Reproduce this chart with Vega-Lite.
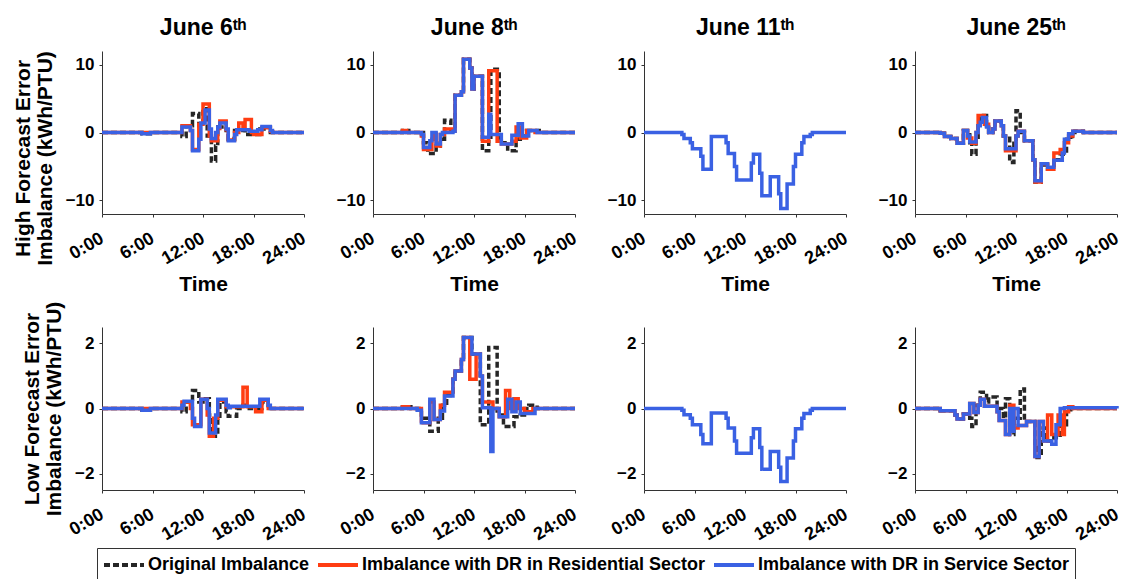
{
"$schema": "https://vega.github.io/schema/vega-lite/v6.json",
"background": "white",
"padding": {"left": 12, "top": 16, "right": 5, "bottom": 5},
"data": {"values": [
{"p":"H6","s":"O","t":0,"v":0},{"p":"H6","s":"O","t":4.75,"v":-0.2},{"p":"H6","s":"O","t":5.75,"v":0},{"p":"H6","s":"O","t":9.5,"v":-0.6},{"p":"H6","s":"O","t":10,"v":1.0},{"p":"H6","s":"O","t":10.75,"v":2.8},{"p":"H6","s":"O","t":11.5,"v":1.0},{"p":"H6","s":"O","t":12,"v":3.5},{"p":"H6","s":"O","t":12.5,"v":-0.5},{"p":"H6","s":"O","t":13,"v":-4.2},{"p":"H6","s":"O","t":13.5,"v":-2.0},{"p":"H6","s":"O","t":13.75,"v":0.8},{"p":"H6","s":"O","t":14.25,"v":1.5},{"p":"H6","s":"O","t":14.75,"v":0.3},{"p":"H6","s":"O","t":15,"v":-1.0},{"p":"H6","s":"O","t":15.75,"v":0.3},{"p":"H6","s":"O","t":17,"v":-0.3},{"p":"H6","s":"O","t":18.75,"v":0.5},{"p":"H6","s":"O","t":19.25,"v":0.8},{"p":"H6","s":"O","t":20,"v":0},{"p":"H6","s":"O","t":24,"v":0},
{"p":"H6","s":"R","t":0,"v":0},{"p":"H6","s":"R","t":9.5,"v":1.0},{"p":"H6","s":"R","t":10.5,"v":0.3},{"p":"H6","s":"R","t":10.75,"v":-2.5},{"p":"H6","s":"R","t":11.5,"v":1.2},{"p":"H6","s":"R","t":12,"v":4.2},{"p":"H6","s":"R","t":12.75,"v":-0.5},{"p":"H6","s":"R","t":13,"v":-1.2},{"p":"H6","s":"R","t":13.75,"v":0.6},{"p":"H6","s":"R","t":14,"v":1.7},{"p":"H6","s":"R","t":14.75,"v":0.4},{"p":"H6","s":"R","t":15,"v":-1.1},{"p":"H6","s":"R","t":15.75,"v":0},{"p":"H6","s":"R","t":16.25,"v":1.4},{"p":"H6","s":"R","t":16.75,"v":0.8},{"p":"H6","s":"R","t":17,"v":1.9},{"p":"H6","s":"R","t":17.75,"v":0},{"p":"H6","s":"R","t":18,"v":-0.3},{"p":"H6","s":"R","t":19,"v":0.7},{"p":"H6","s":"R","t":20,"v":0.2},{"p":"H6","s":"R","t":20.25,"v":0},{"p":"H6","s":"R","t":24,"v":0},
{"p":"H6","s":"S","t":0,"v":0},{"p":"H6","s":"S","t":4.75,"v":-0.2},{"p":"H6","s":"S","t":5.75,"v":0},{"p":"H6","s":"S","t":9.5,"v":0.8},{"p":"H6","s":"S","t":10.5,"v":0.3},{"p":"H6","s":"S","t":10.75,"v":-2.7},{"p":"H6","s":"S","t":11.5,"v":-1},{"p":"H6","s":"S","t":11.75,"v":1.4},{"p":"H6","s":"S","t":12.25,"v":3.3},{"p":"H6","s":"S","t":12.75,"v":0.5},{"p":"H6","s":"S","t":13,"v":-0.9},{"p":"H6","s":"S","t":13.5,"v":0},{"p":"H6","s":"S","t":13.75,"v":0.8},{"p":"H6","s":"S","t":14,"v":1.4},{"p":"H6","s":"S","t":14.75,"v":0.5},{"p":"H6","s":"S","t":15,"v":-1.2},{"p":"H6","s":"S","t":15.75,"v":-0.3},{"p":"H6","s":"S","t":16,"v":0.4},{"p":"H6","s":"S","t":17.5,"v":0.2},{"p":"H6","s":"S","t":18.5,"v":0.4},{"p":"H6","s":"S","t":19,"v":0.9},{"p":"H6","s":"S","t":20,"v":0.3},{"p":"H6","s":"S","t":20.25,"v":0},{"p":"H6","s":"S","t":24,"v":0},

{"p":"H8","s":"O","t":0,"v":0},{"p":"H8","s":"O","t":3.5,"v":0.3},{"p":"H8","s":"O","t":4.25,"v":0},{"p":"H8","s":"O","t":6,"v":-1.5},{"p":"H8","s":"O","t":6.5,"v":-3.1},{"p":"H8","s":"O","t":7.5,"v":-2.0},{"p":"H8","s":"O","t":8,"v":-1.0},{"p":"H8","s":"O","t":8.5,"v":1.8},{"p":"H8","s":"O","t":9.25,"v":0.3},{"p":"H8","s":"O","t":9.75,"v":5.5},{"p":"H8","s":"O","t":10.5,"v":6.0},{"p":"H8","s":"O","t":10.75,"v":10.8},{"p":"H8","s":"O","t":11.5,"v":9.5},{"p":"H8","s":"O","t":11.75,"v":6.4},{"p":"H8","s":"O","t":12,"v":8.3},{"p":"H8","s":"O","t":13,"v":-2.7},{"p":"H8","s":"O","t":13.75,"v":-1.0},{"p":"H8","s":"O","t":14,"v":9.3},{"p":"H8","s":"O","t":15,"v":-1.5},{"p":"H8","s":"O","t":16,"v":-2.7},{"p":"H8","s":"O","t":17,"v":-1.0},{"p":"H8","s":"O","t":17.5,"v":-0.5},{"p":"H8","s":"O","t":18.25,"v":0.3},{"p":"H8","s":"O","t":19.75,"v":0},{"p":"H8","s":"O","t":24,"v":0},
{"p":"H8","s":"R","t":0,"v":0},{"p":"H8","s":"R","t":3.5,"v":0.3},{"p":"H8","s":"R","t":4,"v":0},{"p":"H8","s":"R","t":5.75,"v":-0.5},{"p":"H8","s":"R","t":6,"v":-2.5},{"p":"H8","s":"R","t":7,"v":-1},{"p":"H8","s":"R","t":7.25,"v":-0.2},{"p":"H8","s":"R","t":7.5,"v":-2.0},{"p":"H8","s":"R","t":8,"v":-0.3},{"p":"H8","s":"R","t":8.5,"v":0.5},{"p":"H8","s":"R","t":9.5,"v":0.2},{"p":"H8","s":"R","t":9.75,"v":5.5},{"p":"H8","s":"R","t":10.5,"v":6.0},{"p":"H8","s":"R","t":10.75,"v":10.8},{"p":"H8","s":"R","t":11.5,"v":9.5},{"p":"H8","s":"R","t":11.75,"v":6.4},{"p":"H8","s":"R","t":12,"v":8.3},{"p":"H8","s":"R","t":13,"v":-1.3},{"p":"H8","s":"R","t":13.75,"v":9.1},{"p":"H8","s":"R","t":14.75,"v":-1.3},{"p":"H8","s":"R","t":15.25,"v":-1.7},{"p":"H8","s":"R","t":16.5,"v":-1.3},{"p":"H8","s":"R","t":17,"v":0.8},{"p":"H8","s":"R","t":17.5,"v":-0.8},{"p":"H8","s":"R","t":18.25,"v":0.3},{"p":"H8","s":"R","t":19.25,"v":0},{"p":"H8","s":"R","t":24,"v":0},
{"p":"H8","s":"S","t":0,"v":0},{"p":"H8","s":"S","t":5.75,"v":-0.3},{"p":"H8","s":"S","t":6,"v":-2.2},{"p":"H8","s":"S","t":6.75,"v":-1.2},{"p":"H8","s":"S","t":7,"v":0},{"p":"H8","s":"S","t":7.5,"v":-1.7},{"p":"H8","s":"S","t":8,"v":-0.3},{"p":"H8","s":"S","t":8.25,"v":0},{"p":"H8","s":"S","t":9.5,"v":0.2},{"p":"H8","s":"S","t":9.75,"v":5.5},{"p":"H8","s":"S","t":10.5,"v":6.0},{"p":"H8","s":"S","t":10.75,"v":10.8},{"p":"H8","s":"S","t":11.5,"v":9.5},{"p":"H8","s":"S","t":11.75,"v":6.4},{"p":"H8","s":"S","t":12,"v":8.3},{"p":"H8","s":"S","t":13,"v":-0.7},{"p":"H8","s":"S","t":13.75,"v":2.7},{"p":"H8","s":"S","t":14,"v":-0.3},{"p":"H8","s":"S","t":15.25,"v":-1.7},{"p":"H8","s":"S","t":16.5,"v":-0.4},{"p":"H8","s":"S","t":17.25,"v":1.3},{"p":"H8","s":"S","t":17.75,"v":-0.5},{"p":"H8","s":"S","t":18.5,"v":0.3},{"p":"H8","s":"S","t":19.5,"v":0},{"p":"H8","s":"S","t":24,"v":0},

{"p":"H11","s":"S","t":0,"v":0},{"p":"H11","s":"S","t":4.5,"v":-0.3},{"p":"H11","s":"S","t":4.75,"v":-0.9},{"p":"H11","s":"S","t":5.5,"v":-1.5},{"p":"H11","s":"S","t":5.75,"v":-2.4},{"p":"H11","s":"S","t":6.75,"v":-3.5},{"p":"H11","s":"S","t":7,"v":-5.4},{"p":"H11","s":"S","t":8,"v":-0.6},{"p":"H11","s":"S","t":9.75,"v":-1.5},{"p":"H11","s":"S","t":10,"v":-3.1},{"p":"H11","s":"S","t":10.75,"v":-5},{"p":"H11","s":"S","t":11,"v":-7.0},{"p":"H11","s":"S","t":12.75,"v":-4.5},{"p":"H11","s":"S","t":13,"v":-3.2},{"p":"H11","s":"S","t":13.75,"v":-6},{"p":"H11","s":"S","t":14,"v":-9.3},{"p":"H11","s":"S","t":15,"v":-6.5},{"p":"H11","s":"S","t":16,"v":-9},{"p":"H11","s":"S","t":16.25,"v":-11.2},{"p":"H11","s":"S","t":17,"v":-7.6},{"p":"H11","s":"S","t":17.75,"v":-5},{"p":"H11","s":"S","t":18,"v":-3.2},{"p":"H11","s":"S","t":18.75,"v":-1.5},{"p":"H11","s":"S","t":19,"v":-0.6},{"p":"H11","s":"S","t":19.75,"v":-0.3},{"p":"H11","s":"S","t":20,"v":0},{"p":"H11","s":"S","t":24,"v":0},

{"p":"H25","s":"O","t":0,"v":0},{"p":"H25","s":"O","t":3,"v":-0.1},{"p":"H25","s":"O","t":3.5,"v":-0.6},{"p":"H25","s":"O","t":4.25,"v":-0.9},{"p":"H25","s":"O","t":5,"v":-1.6},{"p":"H25","s":"O","t":5.75,"v":0.3},{"p":"H25","s":"O","t":6.5,"v":-1.5},{"p":"H25","s":"O","t":6.75,"v":-3.2},{"p":"H25","s":"O","t":7.25,"v":-1},{"p":"H25","s":"O","t":7.5,"v":1.5},{"p":"H25","s":"O","t":7.75,"v":2.5},{"p":"H25","s":"O","t":8.5,"v":1.0},{"p":"H25","s":"O","t":8.75,"v":0},{"p":"H25","s":"O","t":9.25,"v":0.5},{"p":"H25","s":"O","t":9.5,"v":1.7},{"p":"H25","s":"O","t":10.25,"v":1.0},{"p":"H25","s":"O","t":10.5,"v":-0.5},{"p":"H25","s":"O","t":11.25,"v":-4.4},{"p":"H25","s":"O","t":11.75,"v":-1},{"p":"H25","s":"O","t":12,"v":3.2},{"p":"H25","s":"O","t":12.5,"v":0},{"p":"H25","s":"O","t":13,"v":-1.2},{"p":"H25","s":"O","t":14,"v":-4},{"p":"H25","s":"O","t":14.25,"v":-7.3},{"p":"H25","s":"O","t":15,"v":-4.8},{"p":"H25","s":"O","t":15.75,"v":-5.4},{"p":"H25","s":"O","t":16.5,"v":-4.0},{"p":"H25","s":"O","t":17.25,"v":-3.2},{"p":"H25","s":"O","t":18,"v":-1.0},{"p":"H25","s":"O","t":18.5,"v":-0.6},{"p":"H25","s":"O","t":19,"v":0.2},{"p":"H25","s":"O","t":20,"v":0},{"p":"H25","s":"O","t":24,"v":0},
{"p":"H25","s":"R","t":0,"v":0},{"p":"H25","s":"R","t":3,"v":-0.1},{"p":"H25","s":"R","t":3.5,"v":-0.6},{"p":"H25","s":"R","t":4.25,"v":-0.9},{"p":"H25","s":"R","t":5,"v":-1.6},{"p":"H25","s":"R","t":5.75,"v":0.3},{"p":"H25","s":"R","t":6.25,"v":-0.8},{"p":"H25","s":"R","t":6.75,"v":-1.6},{"p":"H25","s":"R","t":7.25,"v":0},{"p":"H25","s":"R","t":7.5,"v":2.5},{"p":"H25","s":"R","t":8.25,"v":1.2},{"p":"H25","s":"R","t":8.75,"v":0},{"p":"H25","s":"R","t":9.25,"v":0.5},{"p":"H25","s":"R","t":9.5,"v":1.7},{"p":"H25","s":"R","t":10.25,"v":1.0},{"p":"H25","s":"R","t":10.5,"v":-0.5},{"p":"H25","s":"R","t":10.75,"v":-2.7},{"p":"H25","s":"R","t":12,"v":-0.5},{"p":"H25","s":"R","t":12.25,"v":0.2},{"p":"H25","s":"R","t":13,"v":-1.2},{"p":"H25","s":"R","t":14,"v":-4},{"p":"H25","s":"R","t":14.25,"v":-7.3},{"p":"H25","s":"R","t":15,"v":-4.6},{"p":"H25","s":"R","t":15.75,"v":-5.4},{"p":"H25","s":"R","t":16.5,"v":-3.0},{"p":"H25","s":"R","t":17.25,"v":-2.5},{"p":"H25","s":"R","t":17.75,"v":-1.5},{"p":"H25","s":"R","t":18.25,"v":-0.5},{"p":"H25","s":"R","t":18.75,"v":0.2},{"p":"H25","s":"R","t":20,"v":0},{"p":"H25","s":"R","t":24,"v":0},
{"p":"H25","s":"S","t":0,"v":0},{"p":"H25","s":"S","t":3,"v":-0.1},{"p":"H25","s":"S","t":3.5,"v":-0.6},{"p":"H25","s":"S","t":4.25,"v":-0.9},{"p":"H25","s":"S","t":5,"v":-1.6},{"p":"H25","s":"S","t":5.75,"v":0.3},{"p":"H25","s":"S","t":6.25,"v":-0.5},{"p":"H25","s":"S","t":6.5,"v":-1.4},{"p":"H25","s":"S","t":7.25,"v":0},{"p":"H25","s":"S","t":7.5,"v":1.0},{"p":"H25","s":"S","t":7.75,"v":1.5},{"p":"H25","s":"S","t":8,"v":2.2},{"p":"H25","s":"S","t":8.5,"v":0.8},{"p":"H25","s":"S","t":8.75,"v":0},{"p":"H25","s":"S","t":9.25,"v":0.5},{"p":"H25","s":"S","t":9.5,"v":1.7},{"p":"H25","s":"S","t":10.25,"v":1.0},{"p":"H25","s":"S","t":10.5,"v":-0.5},{"p":"H25","s":"S","t":10.75,"v":-2.4},{"p":"H25","s":"S","t":12,"v":-0.5},{"p":"H25","s":"S","t":12.25,"v":0.2},{"p":"H25","s":"S","t":13,"v":-1.2},{"p":"H25","s":"S","t":14,"v":-4},{"p":"H25","s":"S","t":14.25,"v":-7.1},{"p":"H25","s":"S","t":15,"v":-4.6},{"p":"H25","s":"S","t":15.75,"v":-5.1},{"p":"H25","s":"S","t":16.5,"v":-4.1},{"p":"H25","s":"S","t":17.5,"v":-3.0},{"p":"H25","s":"S","t":17.75,"v":-1.0},{"p":"H25","s":"S","t":18.25,"v":-0.2},{"p":"H25","s":"S","t":18.75,"v":0.2},{"p":"H25","s":"S","t":20,"v":0},{"p":"H25","s":"S","t":24,"v":0},

{"p":"L6","s":"O","t":0,"v":0},{"p":"L6","s":"O","t":4.75,"v":-0.05},{"p":"L6","s":"O","t":5.75,"v":0},{"p":"L6","s":"O","t":9.5,"v":-0.1},{"p":"L6","s":"O","t":10,"v":0.2},{"p":"L6","s":"O","t":10.75,"v":0.55},{"p":"L6","s":"O","t":11.5,"v":0.2},{"p":"L6","s":"O","t":12,"v":0.3},{"p":"L6","s":"O","t":12.75,"v":-0.2},{"p":"L6","s":"O","t":13,"v":-0.85},{"p":"L6","s":"O","t":13.75,"v":-0.3},{"p":"L6","s":"O","t":14,"v":0.2},{"p":"L6","s":"O","t":14.75,"v":-0.1},{"p":"L6","s":"O","t":15,"v":-0.24},{"p":"L6","s":"O","t":16,"v":0},{"p":"L6","s":"O","t":16.75,"v":0.1},{"p":"L6","s":"O","t":17.5,"v":0},{"p":"L6","s":"O","t":19,"v":0.2},{"p":"L6","s":"O","t":19.75,"v":0},{"p":"L6","s":"O","t":24,"v":0},
{"p":"L6","s":"R","t":0,"v":0},{"p":"L6","s":"R","t":9.5,"v":0.2},{"p":"L6","s":"R","t":10.5,"v":0},{"p":"L6","s":"R","t":10.75,"v":-0.5},{"p":"L6","s":"R","t":11.75,"v":0.28},{"p":"L6","s":"R","t":12.5,"v":-0.2},{"p":"L6","s":"R","t":12.75,"v":-0.85},{"p":"L6","s":"R","t":13.25,"v":-0.3},{"p":"L6","s":"R","t":13.75,"v":0.25},{"p":"L6","s":"R","t":14.75,"v":0.05},{"p":"L6","s":"R","t":16.75,"v":0.65},{"p":"L6","s":"R","t":17.25,"v":0.05},{"p":"L6","s":"R","t":18.25,"v":-0.1},{"p":"L6","s":"R","t":19,"v":0.25},{"p":"L6","s":"R","t":19.75,"v":0},{"p":"L6","s":"R","t":24,"v":0},
{"p":"L6","s":"S","t":0,"v":0},{"p":"L6","s":"S","t":4.75,"v":-0.05},{"p":"L6","s":"S","t":5.75,"v":0},{"p":"L6","s":"S","t":9.5,"v":0.1},{"p":"L6","s":"S","t":9.75,"v":0.22},{"p":"L6","s":"S","t":10.75,"v":-0.3},{"p":"L6","s":"S","t":11,"v":-0.55},{"p":"L6","s":"S","t":11.75,"v":0.28},{"p":"L6","s":"S","t":12.5,"v":0},{"p":"L6","s":"S","t":12.75,"v":-0.75},{"p":"L6","s":"S","t":13.5,"v":-0.2},{"p":"L6","s":"S","t":13.75,"v":0.28},{"p":"L6","s":"S","t":14.75,"v":0.1},{"p":"L6","s":"S","t":15,"v":0.02},{"p":"L6","s":"S","t":15.25,"v":0.07},{"p":"L6","s":"S","t":18.75,"v":0.28},{"p":"L6","s":"S","t":19.75,"v":0.1},{"p":"L6","s":"S","t":20,"v":0},{"p":"L6","s":"S","t":24,"v":0},

{"p":"L8","s":"O","t":0,"v":0},{"p":"L8","s":"O","t":3.5,"v":0.05},{"p":"L8","s":"O","t":4.5,"v":0},{"p":"L8","s":"O","t":5.75,"v":-0.3},{"p":"L8","s":"O","t":6.75,"v":-0.7},{"p":"L8","s":"O","t":7.75,"v":-0.3},{"p":"L8","s":"O","t":8.25,"v":0.1},{"p":"L8","s":"O","t":8.75,"v":0.4},{"p":"L8","s":"O","t":9.5,"v":0.9},{"p":"L8","s":"O","t":9.75,"v":1.15},{"p":"L8","s":"O","t":10.5,"v":1.5},{"p":"L8","s":"O","t":10.75,"v":2.18},{"p":"L8","s":"O","t":11.75,"v":1.67},{"p":"L8","s":"O","t":12.75,"v":-0.5},{"p":"L8","s":"O","t":13.75,"v":1.87},{"p":"L8","s":"O","t":14.75,"v":-0.2},{"p":"L8","s":"O","t":15.5,"v":-0.55},{"p":"L8","s":"O","t":16.75,"v":-0.25},{"p":"L8","s":"O","t":17.5,"v":-0.2},{"p":"L8","s":"O","t":18,"v":0},{"p":"L8","s":"O","t":18.5,"v":0.1},{"p":"L8","s":"O","t":19.5,"v":0},{"p":"L8","s":"O","t":24,"v":0},
{"p":"L8","s":"R","t":0,"v":0},{"p":"L8","s":"R","t":3.5,"v":0.05},{"p":"L8","s":"R","t":4.25,"v":0},{"p":"L8","s":"R","t":5.75,"v":-0.44},{"p":"L8","s":"R","t":6.75,"v":0.2},{"p":"L8","s":"R","t":7.25,"v":-0.34},{"p":"L8","s":"R","t":8,"v":0.1},{"p":"L8","s":"R","t":8.5,"v":0.5},{"p":"L8","s":"R","t":9.5,"v":0.9},{"p":"L8","s":"R","t":9.75,"v":1.15},{"p":"L8","s":"R","t":10.5,"v":1.5},{"p":"L8","s":"R","t":10.75,"v":2.18},{"p":"L8","s":"R","t":11.5,"v":0.9},{"p":"L8","s":"R","t":12.25,"v":1.67},{"p":"L8","s":"R","t":12.75,"v":1.0},{"p":"L8","s":"R","t":13,"v":0.2},{"p":"L8","s":"R","t":14.25,"v":0},{"p":"L8","s":"R","t":15,"v":-0.25},{"p":"L8","s":"R","t":15.75,"v":0.55},{"p":"L8","s":"R","t":16.25,"v":0},{"p":"L8","s":"R","t":16.75,"v":0.3},{"p":"L8","s":"R","t":17.25,"v":0},{"p":"L8","s":"R","t":18,"v":-0.1},{"p":"L8","s":"R","t":19,"v":0},{"p":"L8","s":"R","t":24,"v":0},
{"p":"L8","s":"S","t":0,"v":0},{"p":"L8","s":"S","t":5.25,"v":-0.05},{"p":"L8","s":"S","t":5.75,"v":-0.44},{"p":"L8","s":"S","t":6.75,"v":0.28},{"p":"L8","s":"S","t":7.25,"v":-0.34},{"p":"L8","s":"S","t":8,"v":-0.08},{"p":"L8","s":"S","t":8.5,"v":0.38},{"p":"L8","s":"S","t":9.5,"v":0.9},{"p":"L8","s":"S","t":9.75,"v":1.15},{"p":"L8","s":"S","t":10.5,"v":1.5},{"p":"L8","s":"S","t":10.75,"v":2.18},{"p":"L8","s":"S","t":11.75,"v":1.67},{"p":"L8","s":"S","t":12.75,"v":1.0},{"p":"L8","s":"S","t":13,"v":0.02},{"p":"L8","s":"S","t":14,"v":-1.32},{"p":"L8","s":"S","t":14.25,"v":0},{"p":"L8","s":"S","t":15,"v":-0.25},{"p":"L8","s":"S","t":16,"v":0.28},{"p":"L8","s":"S","t":16.5,"v":-0.1},{"p":"L8","s":"S","t":17,"v":0.2},{"p":"L8","s":"S","t":17.5,"v":-0.15},{"p":"L8","s":"S","t":19.25,"v":0},{"p":"L8","s":"S","t":24,"v":0},

{"p":"L11","s":"S","t":0,"v":0},{"p":"L11","s":"S","t":4.5,"v":-0.05},{"p":"L11","s":"S","t":4.75,"v":-0.19},{"p":"L11","s":"S","t":5.5,"v":-0.3},{"p":"L11","s":"S","t":5.75,"v":-0.5},{"p":"L11","s":"S","t":6.75,"v":-0.8},{"p":"L11","s":"S","t":7,"v":-1.08},{"p":"L11","s":"S","t":8,"v":-0.14},{"p":"L11","s":"S","t":9.75,"v":-0.3},{"p":"L11","s":"S","t":10,"v":-0.6},{"p":"L11","s":"S","t":10.75,"v":-1.0},{"p":"L11","s":"S","t":11,"v":-1.37},{"p":"L11","s":"S","t":12.75,"v":-0.9},{"p":"L11","s":"S","t":13,"v":-0.62},{"p":"L11","s":"S","t":13.75,"v":-1.2},{"p":"L11","s":"S","t":14,"v":-1.86},{"p":"L11","s":"S","t":15,"v":-1.32},{"p":"L11","s":"S","t":16,"v":-1.8},{"p":"L11","s":"S","t":16.25,"v":-2.24},{"p":"L11","s":"S","t":17,"v":-1.52},{"p":"L11","s":"S","t":17.75,"v":-1.0},{"p":"L11","s":"S","t":18,"v":-0.62},{"p":"L11","s":"S","t":18.75,"v":-0.3},{"p":"L11","s":"S","t":19,"v":-0.15},{"p":"L11","s":"S","t":19.75,"v":-0.05},{"p":"L11","s":"S","t":20,"v":0},{"p":"L11","s":"S","t":24,"v":0},

{"p":"L25","s":"O","t":0,"v":0},{"p":"L25","s":"O","t":3,"v":-0.07},{"p":"L25","s":"O","t":4.75,"v":-0.2},{"p":"L25","s":"O","t":5,"v":-0.32},{"p":"L25","s":"O","t":5.75,"v":-0.17},{"p":"L25","s":"O","t":6.5,"v":-0.3},{"p":"L25","s":"O","t":6.75,"v":-0.55},{"p":"L25","s":"O","t":7.25,"v":0.1},{"p":"L25","s":"O","t":7.75,"v":0.5},{"p":"L25","s":"O","t":8.5,"v":0.2},{"p":"L25","s":"O","t":8.75,"v":0.35},{"p":"L25","s":"O","t":9.75,"v":0.0},{"p":"L25","s":"O","t":10.5,"v":-0.3},{"p":"L25","s":"O","t":10.75,"v":0.3},{"p":"L25","s":"O","t":11.25,"v":-0.8},{"p":"L25","s":"O","t":11.75,"v":-0.3},{"p":"L25","s":"O","t":12.5,"v":0.6},{"p":"L25","s":"O","t":13,"v":-0.4},{"p":"L25","s":"O","t":14.25,"v":-1.2},{"p":"L25","s":"O","t":14.5,"v":-1.5},{"p":"L25","s":"O","t":15,"v":-0.6},{"p":"L25","s":"O","t":15.5,"v":-1.0},{"p":"L25","s":"O","t":16.5,"v":-0.9},{"p":"L25","s":"O","t":17.25,"v":-0.5},{"p":"L25","s":"O","t":18,"v":-0.1},{"p":"L25","s":"O","t":18.5,"v":0},{"p":"L25","s":"O","t":24,"v":0},
{"p":"L25","s":"R","t":0,"v":0},{"p":"L25","s":"R","t":3,"v":-0.07},{"p":"L25","s":"R","t":4.75,"v":-0.2},{"p":"L25","s":"R","t":5,"v":-0.32},{"p":"L25","s":"R","t":5.75,"v":-0.17},{"p":"L25","s":"R","t":6.5,"v":0.15},{"p":"L25","s":"R","t":7,"v":-0.12},{"p":"L25","s":"R","t":7.5,"v":0.1},{"p":"L25","s":"R","t":7.75,"v":0.28},{"p":"L25","s":"R","t":8.25,"v":0.07},{"p":"L25","s":"R","t":9.75,"v":-0.1},{"p":"L25","s":"R","t":10,"v":-0.37},{"p":"L25","s":"R","t":10.75,"v":-0.8},{"p":"L25","s":"R","t":11.25,"v":0.1},{"p":"L25","s":"R","t":11.75,"v":-0.6},{"p":"L25","s":"R","t":12.25,"v":-0.52},{"p":"L25","s":"R","t":13.25,"v":-0.4},{"p":"L25","s":"R","t":14.25,"v":-1.47},{"p":"L25","s":"R","t":14.75,"v":-0.4},{"p":"L25","s":"R","t":15.25,"v":-1.0},{"p":"L25","s":"R","t":15.75,"v":-0.2},{"p":"L25","s":"R","t":16.25,"v":-0.8},{"p":"L25","s":"R","t":17,"v":-0.2},{"p":"L25","s":"R","t":17.5,"v":-0.8},{"p":"L25","s":"R","t":17.75,"v":-0.1},{"p":"L25","s":"R","t":18.25,"v":0.05},{"p":"L25","s":"R","t":18.75,"v":0},{"p":"L25","s":"R","t":24,"v":0},
{"p":"L25","s":"S","t":0,"v":0},{"p":"L25","s":"S","t":3,"v":-0.07},{"p":"L25","s":"S","t":4.75,"v":-0.2},{"p":"L25","s":"S","t":5,"v":-0.32},{"p":"L25","s":"S","t":5.75,"v":-0.17},{"p":"L25","s":"S","t":6.5,"v":0.15},{"p":"L25","s":"S","t":7,"v":-0.12},{"p":"L25","s":"S","t":7.5,"v":0.1},{"p":"L25","s":"S","t":7.75,"v":0.28},{"p":"L25","s":"S","t":8.25,"v":0.07},{"p":"L25","s":"S","t":9.75,"v":-0.1},{"p":"L25","s":"S","t":10,"v":-0.37},{"p":"L25","s":"S","t":10.75,"v":-0.8},{"p":"L25","s":"S","t":11.25,"v":0.0},{"p":"L25","s":"S","t":11.5,"v":-0.7},{"p":"L25","s":"S","t":11.75,"v":0.0},{"p":"L25","s":"S","t":12.25,"v":-0.52},{"p":"L25","s":"S","t":13.25,"v":-0.4},{"p":"L25","s":"S","t":14.25,"v":-1.47},{"p":"L25","s":"S","t":14.75,"v":-0.4},{"p":"L25","s":"S","t":15.25,"v":-1.0},{"p":"L25","s":"S","t":16.25,"v":-1.1},{"p":"L25","s":"S","t":16.75,"v":-0.5},{"p":"L25","s":"S","t":17.25,"v":0.0},{"p":"L25","s":"S","t":17.75,"v":0.02},{"p":"L25","s":"S","t":24,"v":0}
]},
"columns": 4,
"bounds": "flush",
"spacing": {"row": 113, "column": 69},
"resolve": {"scale": {"x": "independent", "y": "independent", "color": "shared", "strokeDash": "shared"}, "legend": {"color": "shared", "strokeDash": "shared"}},
"concat": [
{"title": "June 6ᵗʰ", "width": 202, "height": 163, "transform": [{"filter": "datum.p == 'H6'"}],
 "encoding": {
  "x": {"field": "t", "type": "quantitative", "scale": {"domain": [0, 24], "nice": false}, "axis": {"values": [0, 6, 12, 18, 24], "labelExpr": "datum.value + ':00'", "title": "Time"}},
  "y": {"field": "v", "type": "quantitative", "scale": {"domain": [-12, 12], "nice": false, "zero": false}, "axis": {"values": [-10, 0, 10], "title": ["High Forecast Error", "Imbalance (kWh/PTU)"], "titleY": 107}},
  "color": {"field": "s", "type": "nominal", "title": null, "scale": {"domain": ["O", "R", "S"], "range": ["#262626", "#FF3D12", "#3A61E3"]}, "legend": {"title": null, "labelExpr": "datum.label == 'O' ? 'Original Imbalance' : datum.label == 'R' ? 'Imbalance with DR in Residential Sector' : 'Imbalance with DR in Service Sector'"}},
  "strokeDash": {"field": "s", "type": "nominal", "title": null, "scale": {"domain": ["O", "R", "S"], "range": [[6, 3], [1, 0], [1, 0]]}, "legend": {"title": null, "labelExpr": "datum.label == 'O' ? 'Original Imbalance' : datum.label == 'R' ? 'Imbalance with DR in Residential Sector' : 'Imbalance with DR in Service Sector'"}}
 },
 "layer": [
  {"transform": [{"filter": "datum.s == 'O'"}], "mark": {"type": "line", "interpolate": "step-after", "strokeWidth": 3.5}},
  {"transform": [{"filter": "datum.s == 'R'"}], "mark": {"type": "line", "interpolate": "step-after", "strokeWidth": 3.5}},
  {"transform": [{"filter": "datum.s == 'S'"}], "mark": {"type": "line", "interpolate": "step-after", "strokeWidth": 3.5}}
 ]},
{"title": "June 8ᵗʰ", "width": 202, "height": 163, "transform": [{"filter": "datum.p == 'H8'"}],
 "encoding": {
  "x": {"field": "t", "type": "quantitative", "scale": {"domain": [0, 24], "nice": false}, "axis": {"values": [0, 6, 12, 18, 24], "labelExpr": "datum.value + ':00'", "title": "Time"}},
  "y": {"field": "v", "type": "quantitative", "scale": {"domain": [-12, 12], "nice": false, "zero": false}, "axis": {"values": [-10, 0, 10], "title": null}},
  "color": {"field": "s", "type": "nominal", "title": null, "scale": {"domain": ["O", "R", "S"], "range": ["#262626", "#FF3D12", "#3A61E3"]}, "legend": {"title": null, "labelExpr": "datum.label == 'O' ? 'Original Imbalance' : datum.label == 'R' ? 'Imbalance with DR in Residential Sector' : 'Imbalance with DR in Service Sector'"}},
  "strokeDash": {"field": "s", "type": "nominal", "title": null, "scale": {"domain": ["O", "R", "S"], "range": [[6, 3], [1, 0], [1, 0]]}, "legend": {"title": null, "labelExpr": "datum.label == 'O' ? 'Original Imbalance' : datum.label == 'R' ? 'Imbalance with DR in Residential Sector' : 'Imbalance with DR in Service Sector'"}}
 },
 "layer": [
  {"transform": [{"filter": "datum.s == 'O'"}], "mark": {"type": "line", "interpolate": "step-after", "strokeWidth": 3.5}},
  {"transform": [{"filter": "datum.s == 'R'"}], "mark": {"type": "line", "interpolate": "step-after", "strokeWidth": 3.5}},
  {"transform": [{"filter": "datum.s == 'S'"}], "mark": {"type": "line", "interpolate": "step-after", "strokeWidth": 3.5}}
 ]},
{"title": "June 11ᵗʰ", "width": 202, "height": 163, "transform": [{"filter": "datum.p == 'H11'"}],
 "encoding": {
  "x": {"field": "t", "type": "quantitative", "scale": {"domain": [0, 24], "nice": false}, "axis": {"values": [0, 6, 12, 18, 24], "labelExpr": "datum.value + ':00'", "title": "Time"}},
  "y": {"field": "v", "type": "quantitative", "scale": {"domain": [-12, 12], "nice": false, "zero": false}, "axis": {"values": [-10, 0, 10], "title": null}},
  "color": {"field": "s", "type": "nominal", "title": null, "scale": {"domain": ["O", "R", "S"], "range": ["#262626", "#FF3D12", "#3A61E3"]}, "legend": {"title": null, "labelExpr": "datum.label == 'O' ? 'Original Imbalance' : datum.label == 'R' ? 'Imbalance with DR in Residential Sector' : 'Imbalance with DR in Service Sector'"}},
  "strokeDash": {"field": "s", "type": "nominal", "title": null, "scale": {"domain": ["O", "R", "S"], "range": [[6, 3], [1, 0], [1, 0]]}, "legend": {"title": null, "labelExpr": "datum.label == 'O' ? 'Original Imbalance' : datum.label == 'R' ? 'Imbalance with DR in Residential Sector' : 'Imbalance with DR in Service Sector'"}}
 },
 "layer": [
  {"transform": [{"filter": "datum.s == 'S'"}], "mark": {"type": "line", "interpolate": "step-after", "strokeWidth": 3.5}}
 ]},
{"title": "June 25ᵗʰ", "width": 202, "height": 163, "transform": [{"filter": "datum.p == 'H25'"}],
 "encoding": {
  "x": {"field": "t", "type": "quantitative", "scale": {"domain": [0, 24], "nice": false}, "axis": {"values": [0, 6, 12, 18, 24], "labelExpr": "datum.value + ':00'", "title": "Time"}},
  "y": {"field": "v", "type": "quantitative", "scale": {"domain": [-12, 12], "nice": false, "zero": false}, "axis": {"values": [-10, 0, 10], "title": null}},
  "color": {"field": "s", "type": "nominal", "title": null, "scale": {"domain": ["O", "R", "S"], "range": ["#262626", "#FF3D12", "#3A61E3"]}, "legend": {"title": null, "labelExpr": "datum.label == 'O' ? 'Original Imbalance' : datum.label == 'R' ? 'Imbalance with DR in Residential Sector' : 'Imbalance with DR in Service Sector'"}},
  "strokeDash": {"field": "s", "type": "nominal", "title": null, "scale": {"domain": ["O", "R", "S"], "range": [[6, 3], [1, 0], [1, 0]]}, "legend": {"title": null, "labelExpr": "datum.label == 'O' ? 'Original Imbalance' : datum.label == 'R' ? 'Imbalance with DR in Residential Sector' : 'Imbalance with DR in Service Sector'"}}
 },
 "layer": [
  {"transform": [{"filter": "datum.s == 'O'"}], "mark": {"type": "line", "interpolate": "step-after", "strokeWidth": 3.5}},
  {"transform": [{"filter": "datum.s == 'R'"}], "mark": {"type": "line", "interpolate": "step-after", "strokeWidth": 3.5}},
  {"transform": [{"filter": "datum.s == 'S'"}], "mark": {"type": "line", "interpolate": "step-after", "strokeWidth": 3.5}}
 ]},
{"width": 202, "height": 163, "transform": [{"filter": "datum.p == 'L6'"}],
 "encoding": {
  "x": {"field": "t", "type": "quantitative", "scale": {"domain": [0, 24], "nice": false}, "axis": {"values": [0, 6, 12, 18, 24], "labelExpr": "datum.value + ':00'", "title": null}},
  "y": {"field": "v", "type": "quantitative", "scale": {"domain": [-2.5, 2.5], "nice": false, "zero": false}, "axis": {"values": [-2, 0, 2], "title": ["Low Forecast Error", "Imbalance (kWh/PTU)"]}},
  "color": {"field": "s", "type": "nominal", "title": null, "scale": {"domain": ["O", "R", "S"], "range": ["#262626", "#FF3D12", "#3A61E3"]}, "legend": {"title": null, "labelExpr": "datum.label == 'O' ? 'Original Imbalance' : datum.label == 'R' ? 'Imbalance with DR in Residential Sector' : 'Imbalance with DR in Service Sector'"}},
  "strokeDash": {"field": "s", "type": "nominal", "title": null, "scale": {"domain": ["O", "R", "S"], "range": [[6, 3], [1, 0], [1, 0]]}, "legend": {"title": null, "labelExpr": "datum.label == 'O' ? 'Original Imbalance' : datum.label == 'R' ? 'Imbalance with DR in Residential Sector' : 'Imbalance with DR in Service Sector'"}}
 },
 "layer": [
  {"transform": [{"filter": "datum.s == 'O'"}], "mark": {"type": "line", "interpolate": "step-after", "strokeWidth": 3.5}},
  {"transform": [{"filter": "datum.s == 'R'"}], "mark": {"type": "line", "interpolate": "step-after", "strokeWidth": 3.5}},
  {"transform": [{"filter": "datum.s == 'S'"}], "mark": {"type": "line", "interpolate": "step-after", "strokeWidth": 3.5}}
 ]},
{"width": 202, "height": 163, "transform": [{"filter": "datum.p == 'L8'"}],
 "encoding": {
  "x": {"field": "t", "type": "quantitative", "scale": {"domain": [0, 24], "nice": false}, "axis": {"values": [0, 6, 12, 18, 24], "labelExpr": "datum.value + ':00'", "title": null}},
  "y": {"field": "v", "type": "quantitative", "scale": {"domain": [-2.5, 2.5], "nice": false, "zero": false}, "axis": {"values": [-2, 0, 2], "title": null}},
  "color": {"field": "s", "type": "nominal", "title": null, "scale": {"domain": ["O", "R", "S"], "range": ["#262626", "#FF3D12", "#3A61E3"]}, "legend": {"title": null, "labelExpr": "datum.label == 'O' ? 'Original Imbalance' : datum.label == 'R' ? 'Imbalance with DR in Residential Sector' : 'Imbalance with DR in Service Sector'"}},
  "strokeDash": {"field": "s", "type": "nominal", "title": null, "scale": {"domain": ["O", "R", "S"], "range": [[6, 3], [1, 0], [1, 0]]}, "legend": {"title": null, "labelExpr": "datum.label == 'O' ? 'Original Imbalance' : datum.label == 'R' ? 'Imbalance with DR in Residential Sector' : 'Imbalance with DR in Service Sector'"}}
 },
 "layer": [
  {"transform": [{"filter": "datum.s == 'O'"}], "mark": {"type": "line", "interpolate": "step-after", "strokeWidth": 3.5}},
  {"transform": [{"filter": "datum.s == 'R'"}], "mark": {"type": "line", "interpolate": "step-after", "strokeWidth": 3.5}},
  {"transform": [{"filter": "datum.s == 'S'"}], "mark": {"type": "line", "interpolate": "step-after", "strokeWidth": 3.5}}
 ]},
{"width": 202, "height": 163, "transform": [{"filter": "datum.p == 'L11'"}],
 "encoding": {
  "x": {"field": "t", "type": "quantitative", "scale": {"domain": [0, 24], "nice": false}, "axis": {"values": [0, 6, 12, 18, 24], "labelExpr": "datum.value + ':00'", "title": null}},
  "y": {"field": "v", "type": "quantitative", "scale": {"domain": [-2.5, 2.5], "nice": false, "zero": false}, "axis": {"values": [-2, 0, 2], "title": null}},
  "color": {"field": "s", "type": "nominal", "title": null, "scale": {"domain": ["O", "R", "S"], "range": ["#262626", "#FF3D12", "#3A61E3"]}, "legend": {"title": null, "labelExpr": "datum.label == 'O' ? 'Original Imbalance' : datum.label == 'R' ? 'Imbalance with DR in Residential Sector' : 'Imbalance with DR in Service Sector'"}},
  "strokeDash": {"field": "s", "type": "nominal", "title": null, "scale": {"domain": ["O", "R", "S"], "range": [[6, 3], [1, 0], [1, 0]]}, "legend": {"title": null, "labelExpr": "datum.label == 'O' ? 'Original Imbalance' : datum.label == 'R' ? 'Imbalance with DR in Residential Sector' : 'Imbalance with DR in Service Sector'"}}
 },
 "layer": [
  {"transform": [{"filter": "datum.s == 'S'"}], "mark": {"type": "line", "interpolate": "step-after", "strokeWidth": 3.5}}
 ]},
{"width": 202, "height": 163, "transform": [{"filter": "datum.p == 'L25'"}],
 "encoding": {
  "x": {"field": "t", "type": "quantitative", "scale": {"domain": [0, 24], "nice": false}, "axis": {"values": [0, 6, 12, 18, 24], "labelExpr": "datum.value + ':00'", "title": null}},
  "y": {"field": "v", "type": "quantitative", "scale": {"domain": [-2.5, 2.5], "nice": false, "zero": false}, "axis": {"values": [-2, 0, 2], "title": null}},
  "color": {"field": "s", "type": "nominal", "title": null, "scale": {"domain": ["O", "R", "S"], "range": ["#262626", "#FF3D12", "#3A61E3"]}, "legend": {"title": null, "labelExpr": "datum.label == 'O' ? 'Original Imbalance' : datum.label == 'R' ? 'Imbalance with DR in Residential Sector' : 'Imbalance with DR in Service Sector'"}},
  "strokeDash": {"field": "s", "type": "nominal", "title": null, "scale": {"domain": ["O", "R", "S"], "range": [[6, 3], [1, 0], [1, 0]]}, "legend": {"title": null, "labelExpr": "datum.label == 'O' ? 'Original Imbalance' : datum.label == 'R' ? 'Imbalance with DR in Residential Sector' : 'Imbalance with DR in Service Sector'"}}
 },
 "layer": [
  {"transform": [{"filter": "datum.s == 'O'"}], "mark": {"type": "line", "interpolate": "step-after", "strokeWidth": 3.5}},
  {"transform": [{"filter": "datum.s == 'R'"}], "mark": {"type": "line", "interpolate": "step-after", "strokeWidth": 3.5}},
  {"transform": [{"filter": "datum.s == 'S'"}], "mark": {"type": "line", "interpolate": "step-after", "strokeWidth": 3.5}}
 ]}
],
"config": {
  "view": {"stroke": null},
  "font": "Liberation Sans",
  "title": {"font": "Liberation Sans", "fontSize": 23, "fontWeight": "bold", "color": "#000000", "offset": 11, "frame": "group"},
  "axis": {"grid": false, "domainColor": "#333333", "domainWidth": 1, "tickColor": "#333333", "tickSize": 3, "labelFont": "Liberation Sans", "labelFontWeight": "bold", "labelFontSize": 17, "labelColor": "#000000", "titleFont": "Liberation Sans", "titleFontWeight": "bold", "titleFontSize": 21, "titleColor": "#000000", "titleLineHeight": 22},
  "axisX": {"labelAngle": -30, "labelAlign": "right", "labelBaseline": "middle", "labelPadding": 20, "labelFontSize": 18, "titlePadding": 6},
  "axisY": {"labelPadding": 5, "titlePadding": 10},
  "legend": {"orient": "none", "legendX": -5, "legendY": 497, "direction": "horizontal", "symbolType": "M-2,0H2", "symbolSize": 400, "symbolStrokeWidth": 4, "symbolOffset": 10, "labelFont": "Liberation Sans", "labelFontWeight": "bold", "labelFontSize": 18, "labelColor": "#000000", "labelLimit": 600, "labelOffset": 12, "columnPadding": 0, "strokeColor": "#333333", "padding": 5, "fillColor": "white", "titlePadding": 0}
}
}
